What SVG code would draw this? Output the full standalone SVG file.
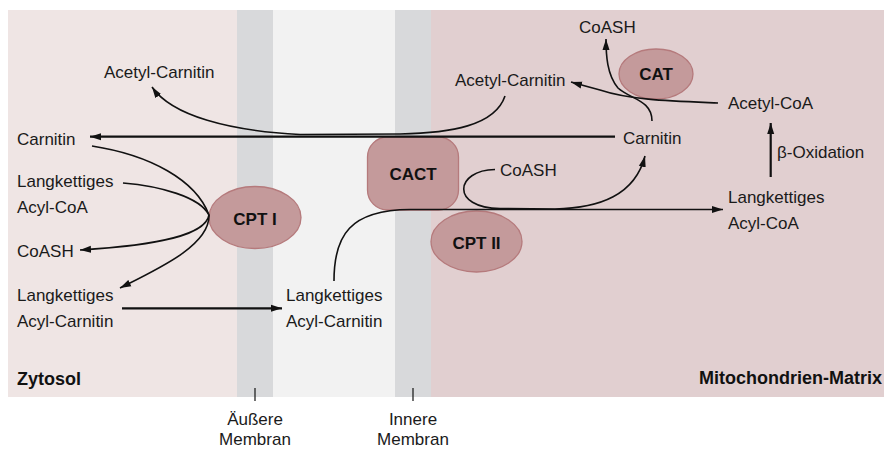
<svg xmlns="http://www.w3.org/2000/svg" width="884" height="450" viewBox="0 0 884 450">
  <defs>
    <marker id="ah" markerUnits="userSpaceOnUse" markerWidth="12" markerHeight="8" refX="11" refY="4" orient="auto">
      <path d="M0,0.5 L11,4 L0,7.5 z" fill="#111"/>
    </marker>
    <style>
      .t { font-family: "Liberation Sans", Arial, sans-serif; font-size: 17px; fill: #1a1a1a; }
      .b { font-family: "Liberation Sans", Arial, sans-serif; font-size: 18px; font-weight: bold; fill: #111; }
      .e { font-family: "Liberation Sans", Arial, sans-serif; font-size: 17px; font-weight: bold; fill: #111; text-anchor: middle; }
      .enz { fill: #c49a9b; stroke: #b57a7c; stroke-width: 1.3; }
      .c { fill: none; stroke: #111; stroke-width: 1.6; }
      .s { fill: none; stroke: #111; stroke-width: 2.2; }
      .m { text-anchor: middle; }
    </style>
  </defs>

  <g id="background">
    <rect x="8" y="10" width="229" height="387" fill="#efe5e4"/>
    <rect x="237" y="10" width="36" height="387" fill="#d8d9db"/>
    <rect x="273" y="10" width="122" height="387" fill="#f2f2f2"/>
    <rect x="395" y="10" width="36" height="387" fill="#d8d9db"/>
    <rect x="431" y="10" width="453" height="387" fill="#e1cfd0"/>
    <line x1="255" y1="388" x2="255" y2="401" stroke="#111" stroke-width="1.2"/>
    <line x1="413" y1="388" x2="413" y2="401" stroke="#111" stroke-width="1.2"/>
    <text class="b" x="17" y="385">Zytosol</text>
    <text class="b" x="882" y="384" text-anchor="end">Mitochondrien-Matrix</text>
    <text class="t m" x="255" y="425">Äußere</text>
    <text class="t m" x="255" y="445">Membran</text>
    <text class="t m" x="413" y="425">Innere</text>
    <text class="t m" x="413" y="445">Membran</text>
  </g>

  <g id="cpt1"><ellipse class="enz" cx="255" cy="217.5" rx="46" ry="31"/><text class="e" x="255" y="225">CPT I</text></g>
  <g id="cact"><rect class="enz" x="367.5" y="137" width="91" height="73" rx="20"/><text class="e" x="413" y="180">CACT</text></g>
  <g id="cpt2"><ellipse class="enz" cx="476.5" cy="241.5" rx="45.5" ry="30.5"/><text class="e" x="476.5" y="249">CPT II</text></g>
  <g id="cat"><ellipse class="enz" cx="656" cy="74" rx="37" ry="25"/><text class="e" x="656" y="80">CAT</text></g>

  <g id="n-acetylcarnitin-zyt"><text class="t" x="104" y="78">Acetyl-Carnitin</text></g>
  <g id="n-carnitin-zyt"><text class="t" x="17" y="145">Carnitin</text></g>
  <g id="n-acylcoa-zyt"><text class="t" x="17" y="187">Langkettiges</text><text class="t" x="17" y="213">Acyl-CoA</text></g>
  <g id="n-coash-zyt"><text class="t" x="17" y="257">CoASH</text></g>
  <g id="n-acylcarn-zyt"><text class="t" x="17" y="301">Langkettiges</text><text class="t" x="17" y="327">Acyl-Carnitin</text></g>
  <g id="n-acylcarn-ims"><text class="t" x="286" y="301">Langkettiges</text><text class="t" x="286" y="327">Acyl-Carnitin</text></g>
  <g id="n-acetylcarnitin-mat"><text class="t" x="455" y="86">Acetyl-Carnitin</text></g>
  <g id="n-coash-top"><text class="t" x="579" y="33">CoASH</text></g>
  <g id="n-acetylcoa"><text class="t" x="728" y="109">Acetyl-CoA</text></g>
  <g id="n-carnitin-mat"><text class="t" x="623" y="144">Carnitin</text></g>
  <g id="n-coash-mat"><text class="t" x="500" y="176">CoASH</text></g>
  <g id="n-boxidation"><text class="t" x="777" y="158">β-Oxidation</text></g>
  <g id="n-acylcoa-mat"><text class="t" x="728" y="203">Langkettiges</text><text class="t" x="728" y="229">Acyl-CoA</text></g>

  <g id="connectors">
    <path class="s" d="M615 136.7 L90 136.7" marker-end="url(#ah)"/>
    <path class="c" d="M505 96 C495 126 450 133 400 134 L300 134.5 C230 131 172 116 152 87" marker-end="url(#ah)"/>
    <path class="c" d="M92 146 C150 155 196 180 209 215"/>
    <path class="c" d="M123 183 C160 186 200 197 209 215"/>
    <path class="c" d="M209 215 C205 240 130 247 80 250" marker-end="url(#ah)"/>
    <path class="c" d="M209 215 C210 245 160 268 120 288" marker-end="url(#ah)"/>
    <path class="s" d="M122 308.3 L282 308.3" marker-end="url(#ah)"/>
    <path class="c" d="M334 281 C334 235 350 210 410 209.5 L723 209.5" marker-end="url(#ah)"/>
    <path class="c" d="M495 169.5 C455 170 450 208 500 208.5 L555 209 C600 208 635 195 645 156" marker-end="url(#ah)"/>
    <path class="s" d="M770.7 177 L770.7 123" marker-end="url(#ah)"/>
    <path class="c" d="M718 103 C670 101 630 100 600 90 Q585 86 571 82" marker-end="url(#ah)"/>
    <path class="c" d="M652 121 C652 100 630 99 618 88 C607 75 606 55 606 39" marker-end="url(#ah)"/>
  </g>
</svg>
